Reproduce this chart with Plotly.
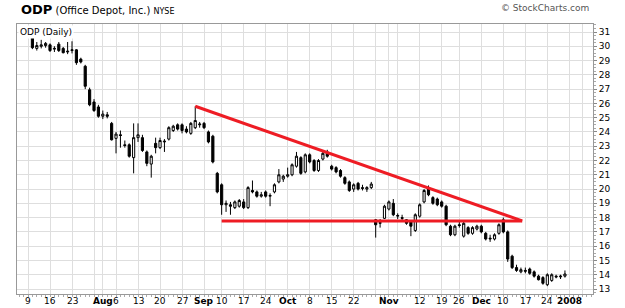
import pandas as pd
import plotly.graph_objects as go

# ---------------- data ----------------
holidays = ["2007-07-04", "2007-09-03", "2007-11-22", "2007-12-25", "2008-01-01"]
first_day = "2007-07-10"
last_day = "2007-12-31"

opens = [
    30.8, 29.85, 30.0, 30.05, 30.1, 29.8, 30.15, 29.85, 29.6, 29.7,
    29.75, 29.1, 28.6, 26.95, 26.1, 25.75, 25.1, 25.2, 24.6, 23.55,
    23.8, 23.1, 23.1, 22.2, 23.6, 23.6, 22.6, 21.75, 23.2, 22.9,
    23.3, 23.5, 24.1, 24.5, 24.5, 24.2, 23.9, 24.3, 24.5, 24.6,
    24.0, 23.7, 21.1, 20.3, 18.9, 18.9, 18.7, 18.8, 19.1, 18.7,
    19.9, 19.8, 19.5, 19.8, 19.5, 19.8, 20.5, 20.7, 20.9, 21.0,
    21.6, 22.2, 21.2, 22.4, 22.0, 21.3, 22.1, 22.6, 21.6, 21.5,
    21.3, 20.8, 20.5, 20.0, 20.4, 20.1, 20.0, 20.1, 17.85, 17.6,
    17.95, 18.6, 19.0, 18.1, 18.0, 17.85, 17.7, 17.1, 18.1, 19.1,
    20.1, 19.4, 19.3, 19.1, 18.8, 17.4, 16.8, 17.5, 16.7, 17.3,
    16.9, 17.2, 17.4, 16.9, 16.5, 16.5, 16.9, 17.85, 17.0, 15.3,
    14.5, 14.2, 14.3, 14.4, 14.2, 13.9, 13.8, 13.3, 13.6, 13.9,
    13.85, 13.9,
]
highs = [
    30.95, 30.3, 30.45, 30.3, 30.2, 30.0, 30.3, 29.95, 30.3, 30.35,
    29.8, 29.2, 28.7, 27.1, 26.3, 25.9, 25.5, 25.4, 24.7, 24.0,
    24.1, 23.4, 23.2, 24.6, 24.6, 23.8, 22.7, 22.4, 23.6, 23.6,
    23.5, 24.4, 24.5, 24.6, 24.6, 24.4, 24.7, 25.8, 24.7, 24.7,
    24.1, 23.8, 21.2, 20.4, 19.2, 19.1, 19.2, 19.3, 19.3, 20.2,
    20.6, 19.9, 19.8, 19.9, 19.7, 20.4, 21.4, 21.0, 21.5, 21.8,
    22.6, 22.3, 22.5, 22.5, 22.1, 22.1, 22.6, 22.75, 21.7, 21.6,
    21.4, 20.9, 20.6, 20.4, 20.5, 20.3, 20.2, 20.5, 17.9, 17.9,
    18.9, 19.2, 19.3, 18.3, 18.2, 17.9, 17.8, 18.3, 19.0, 20.0,
    20.25, 19.5, 19.4, 19.2, 18.9, 17.5, 17.5, 17.7, 17.7, 17.4,
    17.4, 17.5, 17.5, 17.0, 16.8, 16.9, 17.6, 18.0, 17.1, 15.4,
    14.7, 14.5, 14.5, 14.5, 14.3, 14.0, 13.9, 14.1, 14.1, 14.0,
    14.0, 14.3,
]
lows = [
    29.8, 29.7, 29.85, 29.9, 29.6, 29.6, 29.6, 29.5, 29.45, 29.5,
    28.7, 28.8, 27.0, 25.8, 25.4, 25.0, 24.9, 24.95, 23.4, 22.5,
    22.9, 22.9, 22.2, 21.1, 23.3, 22.6, 21.6, 20.8, 22.5, 22.8,
    22.6, 23.4, 24.0, 24.1, 23.9, 23.9, 23.8, 24.2, 24.3, 24.2,
    23.2, 21.8, 19.7, 18.2, 18.4, 18.2, 18.6, 18.7, 18.6, 18.6,
    19.7, 19.4, 19.4, 19.4, 18.8, 19.7, 20.4, 20.5, 20.8, 20.9,
    21.5, 21.0, 21.1, 21.8, 21.2, 21.2, 22.0, 22.2, 21.3, 21.1,
    20.8, 20.3, 19.8, 19.8, 19.9, 19.9, 19.8, 20.0, 16.6, 17.3,
    17.9, 18.5, 18.1, 17.9, 17.8, 17.5, 16.7, 17.0, 18.0, 19.0,
    19.5, 18.9, 18.8, 18.7, 17.4, 16.7, 16.7, 17.3, 16.6, 16.8,
    16.8, 17.1, 16.9, 16.4, 16.3, 16.4, 16.8, 16.9, 14.9, 14.4,
    14.2, 14.1, 14.1, 14.0, 13.8, 13.6, 13.3, 13.2, 13.5, 13.75,
    13.7, 13.8,
]
closes = [
    29.9, 30.05, 30.1, 30.2, 29.7, 29.85, 29.7, 29.55, 29.65, 29.75,
    28.85, 28.9, 27.2, 25.9, 25.5, 25.1, 25.25, 25.1, 23.45, 23.85,
    23.75, 23.05, 22.3, 23.6, 23.8, 22.7, 21.8, 22.3, 22.9, 23.4,
    23.35, 24.3, 24.4, 24.2, 24.1, 24.0, 24.6, 24.8, 24.55, 24.3,
    23.3, 21.9, 19.8, 18.9, 19.0, 18.8, 19.1, 19.2, 18.7, 20.1,
    19.8, 19.5, 19.6, 19.5, 19.55, 20.3, 21.0, 20.9, 21.0, 21.7,
    22.3, 21.1, 22.4, 21.9, 21.3, 22.0, 22.5, 22.3, 21.4, 21.2,
    20.9, 20.4, 19.9, 20.3, 20.0, 20.05, 20.1, 20.35, 17.5, 17.65,
    18.8, 19.1, 18.2, 18.15, 17.95, 17.6, 17.4, 18.2, 18.9, 19.9,
    19.6, 19.0, 18.9, 18.8, 17.5, 16.8, 17.4, 17.45, 17.6, 16.9,
    17.3, 17.4, 17.0, 16.5, 16.55, 16.8, 17.5, 17.0, 15.1, 14.5,
    14.3, 14.35, 14.25, 14.1, 13.9, 13.65, 13.4, 14.0, 14.0, 13.85,
    13.9, 14.05,
]

# red trend lines drawn on the chart
resist_dates = ["2007-08-30", "2007-12-14 07:00"]
resist_prices = [25.8, 17.77]
support_dates = ["2007-09-10", "2007-12-14 07:00"]
support_prices = [17.77, 17.77]

# vertical grid lines (first trading day of week / month)
grid_dates = ["2007-07-09", "2007-07-16", "2007-07-23", "2007-07-30", "2007-08-01",
              "2007-08-06", "2007-08-13", "2007-08-20", "2007-08-27", "2007-09-04",
              "2007-09-10", "2007-09-17", "2007-09-24", "2007-10-01", "2007-10-08",
              "2007-10-15", "2007-10-22", "2007-10-29", "2007-11-01", "2007-11-05",
              "2007-11-12", "2007-11-19", "2007-11-26", "2007-12-03", "2007-12-10",
              "2007-12-17", "2007-12-24", "2008-01-02", "2008-01-07"]
# x-axis labels
label_dates = ["2007-07-09", "2007-07-16", "2007-07-23", "2007-08-01",
               "2007-08-06", "2007-08-13", "2007-08-20", "2007-08-27", "2007-09-04",
               "2007-09-10", "2007-09-17", "2007-09-24", "2007-10-01", "2007-10-08",
               "2007-10-15", "2007-10-22", "2007-11-01",
               "2007-11-12", "2007-11-19", "2007-11-26", "2007-12-03", "2007-12-10",
               "2007-12-17", "2007-12-24", "2008-01-02"]
label_texts = ["9", "16", "23", "<b>Aug</b>",
               "6", "13", "20", "27", "<b>Sep</b>",
               "10", "17", "24", "<b>Oct</b>", "8",
               "15", "22", "<b>Nov</b>",
               "12", "19", "26", "<b>Dec</b>", "10",
               "17", "24", "<b>2008</b>"]
price_ticks = list(range(13, 32))

# ---------------- figure ----------------
days = [d for d in pd.bdate_range(first_day, last_day) if d.strftime("%Y-%m-%d") not in holidays]

FONT = "DejaVu Sans, Verdana, sans-serif"
GRID = "#dedede"

fig = go.Figure()
fig.add_trace(go.Candlestick(
    x=days, open=opens, high=highs, low=lows, close=closes,
    increasing=dict(line=dict(color="black", width=1), fillcolor="white"),
    decreasing=dict(line=dict(color="black", width=1), fillcolor="black"),
    whiskerwidth=0, showlegend=False, hoverinfo="skip",
))
for dx, py in ((resist_dates, resist_prices), (support_dates, support_prices)):
    fig.add_trace(go.Scatter(x=dx, y=py, mode="lines",
                             line=dict(color="#ee1c24", width=3),
                             showlegend=False, hoverinfo="skip"))

annotations = [
    dict(xref="paper", yref="paper", x=0, y=1, xanchor="left", yanchor="bottom",
         xshift=2, yshift=5, showarrow=False,
         text="<b><span style='font-size:13px'>ODP</span></b> (Office Depot, Inc.) <span style='font-size:8px'>NYSE</span>",
         font=dict(family=FONT, size=10, color="black")),
    dict(xref="paper", yref="paper", x=1, y=1, xanchor="right", yanchor="bottom",
         xshift=-2, yshift=9, showarrow=False,
         text="© StockCharts.com",
         font=dict(family=FONT, size=9, color="#555")),
    dict(xref="paper", yref="paper", x=0, y=1, xanchor="left", yanchor="top",
         xshift=1, yshift=-1, showarrow=False, bgcolor="white",
         text="ODP (Daily)",
         font=dict(family=FONT, size=9, color="black")),
]
for d, t in zip(label_dates, label_texts):
    annotations.append(dict(xref="x", yref="paper", x=d, y=0, xanchor="center", yanchor="top",
                            yshift=-1, showarrow=False, text=t, borderpad=0,
                            font=dict(family=FONT, size=9, color="black")))

fig.update_layout(
    width=625, height=308,
    margin=dict(l=17, r=32, t=24, b=14, autoexpand=False),
    paper_bgcolor="white", plot_bgcolor="white",
    font=dict(family=FONT, size=9, color="black"),
    xaxis=dict(
        type="date", automargin=False,
        rangebreaks=[dict(bounds=["sat", "mon"]), dict(values=holidays)],
        range=["2007-07-03 12:00", "2008-01-09 09:00"],
        rangeslider=dict(visible=False),
        tickmode="array", tickvals=grid_dates, showticklabels=False,
        showgrid=True, gridcolor=GRID, gridwidth=1,
        ticks="",
        minor=dict(ticks="outside", ticklen=2, dtick=86400000, tickcolor="#aaa", showgrid=False),
        showline=True, linecolor="#999", mirror=True,
        zeroline=False,
    ),
    yaxis=dict(
        side="right", automargin=False,
        range=[12.65, 31.56],
        tickmode="array", tickvals=price_ticks,
        showgrid=True, gridcolor=GRID, gridwidth=1,
        ticks="outside", ticklen=3, tickcolor="#888",
        minor=dict(ticks="outside", ticklen=2, dtick=0.25, tickcolor="#aaa", showgrid=False),
        showline=True, linecolor="#999", mirror=True,
        tickfont=dict(family=FONT, size=9),
        zeroline=False,
    ),
    annotations=annotations,
)

fig.write_html("out.html")
